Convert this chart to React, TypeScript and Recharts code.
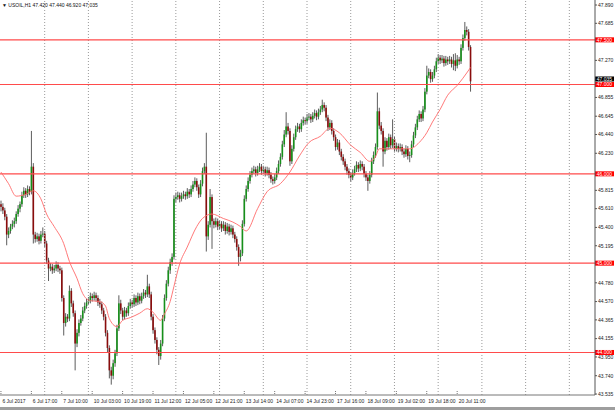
import React from 'react';
import { ComposedChart, Bar, Line, XAxis, YAxis, ReferenceLine } from 'recharts';

// USOIL H1 candles (one per hour)
const opens = [
  45.66,45.63,45.59,45.52,45.32,45.36,45.41,45.44,45.47,45.55,
  45.61,45.66,45.76,45.81,45.77,45.83,45.80,46.08,45.32,45.27,
  45.30,45.25,45.32,45.33,45.22,45.03,44.94,44.96,44.92,44.94,
  44.98,44.94,44.92,44.61,44.33,44.40,44.38,44.69,44.55,44.44,
  44.10,44.22,44.33,44.38,44.47,44.52,44.56,44.58,44.63,44.61,
  44.64,44.61,44.56,44.54,44.47,44.40,44.22,44.05,43.80,43.74,
  43.88,43.99,44.27,44.55,44.47,44.40,44.47,44.44,44.52,44.56,
  44.54,44.61,44.56,44.63,44.58,44.63,44.67,44.65,44.74,44.65,
  44.40,44.25,44.14,44.03,43.96,44.10,44.38,44.61,44.77,44.92,
  45.01,45.07,45.72,45.74,45.76,45.72,45.75,45.77,45.75,45.80,
  45.77,45.83,45.88,45.92,45.85,45.77,45.89,46.03,46.08,45.30,
  45.43,45.74,45.47,45.43,45.47,45.41,45.44,45.39,45.43,45.36,
  45.41,45.35,45.39,45.32,45.27,45.18,45.07,45.11,45.44,45.72,
  45.83,45.92,45.99,46.03,46.05,46.01,46.05,46.08,46.03,46.05,
  46.01,46.04,45.99,45.94,45.92,45.96,46.03,46.11,46.19,46.33,
  46.44,46.53,46.48,46.14,46.28,46.41,46.50,46.53,46.50,46.57,
  46.60,46.59,46.63,46.64,46.61,46.65,46.68,46.64,46.69,46.72,
  46.77,46.74,46.63,46.52,46.57,46.48,46.41,46.30,46.35,46.25,
  46.19,46.14,46.08,46.03,45.99,45.96,46.01,46.05,46.10,46.06,
  46.11,46.08,46.00,45.96,45.92,45.99,46.14,46.21,46.30,46.70,
  46.54,46.48,46.25,46.37,46.30,46.41,46.32,46.39,46.28,46.31,
  46.28,46.30,46.25,46.22,46.28,46.20,46.21,46.33,46.43,46.52,
  46.61,46.67,46.62,46.72,46.92,47.10,47.14,47.06,47.10,47.17,
  47.26,47.30,47.27,47.29,47.24,47.28,47.26,47.28,47.23,47.27,
  47.21,47.28,47.26,47.41,47.52,47.61,47.59,47.42,
];

const highs = [
  45.70,45.67,45.62,45.55,45.40,45.44,45.48,45.51,45.58,45.65,
  45.69,45.80,45.85,45.84,45.87,45.86,46.48,46.12,45.35,45.34,
  45.33,45.36,45.40,45.36,45.25,45.06,45.00,44.99,44.98,45.02,
  45.01,44.97,44.95,44.64,44.44,44.43,44.75,44.72,44.58,44.47,
  44.26,44.37,44.42,44.51,44.56,44.60,44.62,44.67,44.66,44.68,
  44.67,44.64,44.60,44.57,44.50,44.43,44.25,44.08,43.84,43.92,
  44.03,44.31,44.64,44.59,44.50,44.51,44.50,44.56,44.60,44.59,
  44.65,44.64,44.67,44.66,44.67,44.71,44.70,44.87,44.77,44.68,
  44.43,44.28,44.17,44.06,44.14,44.42,44.65,44.81,44.96,45.05,
  45.11,45.76,45.79,45.80,45.79,45.79,45.81,45.80,45.84,45.83,
  45.87,45.92,45.96,45.95,45.88,45.93,46.07,46.12,46.46,45.47,
  45.83,45.77,45.50,45.51,45.50,45.48,45.47,45.47,45.46,45.45,
  45.44,45.43,45.42,45.35,45.30,45.21,45.15,45.48,45.76,45.87,
  45.96,46.03,46.07,46.09,46.08,46.09,46.12,46.11,46.09,46.08,
  46.08,46.07,46.02,45.97,46.00,46.07,46.15,46.23,46.37,46.49,
  46.69,46.57,46.51,46.32,46.45,46.54,46.57,46.56,46.61,46.64,
  46.63,46.67,46.68,46.67,46.69,46.72,46.71,46.73,46.76,46.83,
  46.80,46.77,46.66,46.61,46.60,46.51,46.44,46.39,46.38,46.28,
  46.22,46.17,46.11,46.06,46.02,46.05,46.09,46.14,46.13,46.15,
  46.14,46.11,46.03,45.99,46.03,46.18,46.25,46.34,46.91,46.74,
  46.58,46.51,46.41,46.40,46.45,46.44,46.61,46.42,46.35,46.34,
  46.34,46.33,46.28,46.32,46.31,46.25,46.37,46.47,46.56,46.65,
  46.71,46.70,46.76,46.96,47.21,47.18,47.17,47.14,47.21,47.30,
  47.34,47.33,47.33,47.32,47.32,47.31,47.32,47.31,47.34,47.35,
  47.33,47.31,47.45,47.56,47.70,47.65,47.62,47.44,
];

const lows = [
  45.58,45.55,45.48,45.20,45.28,45.33,45.38,45.40,45.44,45.52,
  45.57,45.63,45.73,45.73,45.74,45.76,45.77,45.22,45.23,45.24,
  45.21,45.22,45.29,45.18,44.99,44.80,44.91,44.88,44.89,44.91,
  44.90,44.88,44.57,44.19,44.29,44.34,44.35,44.51,44.40,43.80,
  44.06,44.18,44.30,44.35,44.44,44.49,44.53,44.55,44.57,44.58,
  44.57,44.52,44.50,44.43,44.36,44.18,44.00,43.71,43.64,43.70,
  43.84,43.96,44.24,44.43,44.36,44.37,44.40,44.41,44.49,44.50,
  44.51,44.52,44.53,44.54,44.55,44.60,44.61,44.62,44.61,44.36,
  44.21,44.10,43.98,43.86,43.92,44.07,44.35,44.58,44.74,44.88,
  44.97,45.04,45.68,45.71,45.68,45.69,45.72,45.71,45.72,45.73,
  45.74,45.80,45.85,45.81,45.73,45.74,45.86,46.00,45.13,45.26,
  45.40,45.16,45.39,45.40,45.37,45.38,45.35,45.36,45.32,45.33,
  45.31,45.32,45.28,45.23,45.14,44.97,45.02,45.08,45.41,45.69,
  45.80,45.89,45.96,46.00,45.97,45.98,46.02,45.99,46.00,45.97,
  45.98,45.95,45.90,45.88,45.89,45.93,46.00,46.08,46.16,46.30,
  46.41,46.44,46.09,46.11,46.25,46.38,46.47,46.46,46.47,46.54,
  46.55,46.56,46.60,46.57,46.58,46.62,46.60,46.61,46.66,46.69,
  46.70,46.59,46.48,46.49,46.44,46.37,46.26,46.27,46.21,46.15,
  46.10,46.04,45.99,45.95,45.91,45.93,45.98,46.02,46.02,46.03,
  46.04,45.96,45.92,45.81,45.89,45.96,46.11,46.18,46.27,46.50,
  46.44,46.08,46.22,46.26,46.27,46.28,46.29,46.24,46.25,46.24,
  46.25,46.21,46.18,46.19,46.16,46.13,46.18,46.30,46.40,46.49,
  46.58,46.58,46.59,46.69,46.89,47.07,47.02,47.03,47.07,47.14,
  47.23,47.23,47.24,47.20,47.21,47.22,47.23,47.19,47.16,47.15,
  47.18,47.22,47.23,47.38,47.49,47.55,47.38,46.92,
];

const closes = [
  45.63,45.59,45.52,45.32,45.36,45.41,45.44,45.47,45.55,45.61,
  45.66,45.76,45.81,45.77,45.83,45.80,46.08,45.32,45.27,45.30,
  45.25,45.32,45.33,45.22,45.03,44.94,44.96,44.92,44.94,44.98,
  44.94,44.92,44.61,44.33,44.40,44.38,44.69,44.55,44.44,44.10,
  44.22,44.33,44.38,44.47,44.52,44.56,44.58,44.63,44.61,44.64,
  44.61,44.56,44.54,44.47,44.40,44.22,44.05,43.80,43.74,43.88,
  43.99,44.27,44.55,44.47,44.40,44.47,44.44,44.52,44.56,44.54,
  44.61,44.56,44.63,44.58,44.63,44.67,44.65,44.74,44.65,44.40,
  44.25,44.14,44.03,43.96,44.10,44.38,44.61,44.77,44.92,45.01,
  45.07,45.72,45.74,45.76,45.72,45.75,45.77,45.75,45.80,45.77,
  45.83,45.88,45.92,45.85,45.77,45.89,46.03,46.08,45.30,45.43,
  45.74,45.47,45.43,45.47,45.41,45.44,45.39,45.43,45.36,45.41,
  45.35,45.39,45.32,45.27,45.18,45.07,45.11,45.44,45.72,45.83,
  45.92,45.99,46.03,46.05,46.01,46.05,46.08,46.03,46.05,46.01,
  46.04,45.99,45.94,45.92,45.96,46.03,46.11,46.19,46.33,46.44,
  46.53,46.48,46.14,46.28,46.41,46.50,46.53,46.50,46.57,46.60,
  46.59,46.63,46.64,46.61,46.65,46.68,46.64,46.69,46.72,46.77,
  46.74,46.63,46.52,46.57,46.48,46.41,46.30,46.35,46.25,46.19,
  46.14,46.08,46.03,45.99,45.96,46.01,46.05,46.10,46.06,46.11,
  46.08,46.00,45.96,45.92,45.99,46.14,46.21,46.30,46.70,46.54,
  46.48,46.25,46.37,46.30,46.41,46.32,46.39,46.28,46.31,46.28,
  46.30,46.25,46.22,46.28,46.20,46.21,46.33,46.43,46.52,46.61,
  46.67,46.62,46.72,46.92,47.10,47.14,47.06,47.10,47.17,47.26,
  47.30,47.27,47.29,47.24,47.28,47.26,47.28,47.23,47.27,47.21,
  47.28,47.26,47.41,47.52,47.61,47.59,47.42,47.035,
];

// moving average, read at a few bars
const maBars = [
  0,4,8,13,17,21,24,28,33,36,40,43,47,52,55,57,61,64,68,73,
  77,80,84,86,89,91,94,98,103,106,111,117,122,126,129,135,140,147,152,157,
  162,168,173,178,184,189,194,197,199,205,210,215,220,224,227,231,235,240,243,247,
];
const maValues = [
  46.02,45.89,45.75,45.77,45.81,45.72,45.55,45.41,45.22,45.02,44.83,44.66,44.58,44.57,44.52,44.38,44.29,44.36,44.39,44.44,
  44.49,44.45,44.36,44.43,44.57,44.74,44.99,45.18,45.41,45.50,45.55,45.50,45.46,45.41,45.36,45.61,45.80,45.89,46.02,46.20,
  46.35,46.42,46.51,46.46,46.32,46.24,46.14,46.19,46.28,46.28,46.28,46.28,46.35,46.46,46.58,46.72,46.88,46.99,47.07,47.19,
];

const timeLabelBars = [0,16,32,48,64,80,96,112,128,144,160,176,192,208,224,240];
const timeLabels = [
  '6 Jul 2017','6 Jul 17:00','7 Jul 10:00','10 Jul 03:00','10 Jul 19:00','11 Jul 12:00',
  '12 Jul 05:00','12 Jul 21:00','13 Jul 14:00','14 Jul 07:00','14 Jul 23:00','17 Jul 16:00',
  '18 Jul 09:00','19 Jul 02:00','19 Jul 18:00','20 Jul 11:00',
];
const gridBars = [23,46,69,92,115,138,161,184,207,230,253,276,299];

const priceTicks = [
  47.890,47.685,47.270,46.855,46.645,46.440,46.230,45.815,45.610,45.400,
  45.195,44.780,44.570,44.365,44.155,43.950,43.740,43.535,
];
const levelLines = [47.5, 47.0, 46.0, 45.0, 44.0];
const lastPrice = 47.035;

const SLOTS = 313;
const FONT = '"Liberation Sans", Arial, sans-serif';

const data = Array.from({ length: SLOTS }, (_, i) => {
  const row: any = { idx: i };
  if (i < closes.length) {
    row.o = opens[i];
    row.h = highs[i];
    row.l = lows[i];
    row.c = closes[i];
    row.range = [lows[i], highs[i]];
  }
  const k = maBars.indexOf(i);
  if (k >= 0) row.ma = maValues[k];
  return row;
});

const Candle = (props: any) => {
  const { x, y, width, height, payload } = props;
  if (!payload || payload.h == null) return <g />;
  const top = Math.min(y, y + height);
  const h = Math.abs(height);
  const span = payload.h - payload.l;
  const toY = (v: number) => (span === 0 ? top : top + ((payload.h - v) / span) * h);
  const cx = x + width / 2;
  const yo = toY(payload.o);
  const yc = toY(payload.c);
  const up = payload.c >= payload.o;
  return (
    <g>
      <line x1={cx} x2={cx} y1={top} y2={top + h} stroke="#4a4a4a" strokeWidth={0.9} />
      <rect
        x={cx - 0.8}
        y={Math.min(yo, yc)}
        width={1.6}
        height={Math.max(Math.abs(yc - yo), 0.8)}
        fill={up ? '#16901a' : '#8a0c0c'}
      />
    </g>
  );
};

const TimeTick = (p: any) => {
  const k = timeLabelBars.indexOf(p.payload.value);
  if (k < 0) return <g />;
  return (
    <g>
      <line x1={p.x} x2={p.x} y1={p.y - 4} y2={p.y} stroke="#777" strokeDasharray="1 1" />
      <text x={p.x + 1.5} y={p.y + 7.5} fontSize={5} fontFamily={FONT} fill="#222">
        {timeLabels[k]}
      </text>
    </g>
  );
};

const PriceTick = (p: any) => (
  <g>
    <line x1={p.x} x2={p.x + 2} y1={p.y} y2={p.y} stroke="#555" />
    <text x={p.x + 3} y={p.y} dy={1.8} fontSize={5} fontFamily={FONT} fill="#222">
      {Number(p.payload.value).toFixed(3)}
    </text>
  </g>
);

// price box on the right scale; shift nudges it off a neighbouring box
const PriceTag = ({ viewBox, text, fill, shift = 0 }: any) => {
  if (!viewBox) return null;
  const x = viewBox.x + viewBox.width;
  const y = viewBox.y + shift;
  return (
    <g>
      <rect x={x} y={y - 2.5} width={19} height={5} fill={fill} />
      <text x={x + 1.8} y={y} dy={1.7} fontSize={5} fontFamily={FONT} fill="#fff">
        {text}
      </text>
    </g>
  );
};

export default function App() {
  return (
    <div style={{ position: 'absolute', left: 0, top: 0, width: 615, height: 410, background: '#fff' }}>
      <ComposedChart
        width={615}
        height={410}
        data={data}
        margin={{ top: 0, right: 0, bottom: 0, left: 0 }}
        barCategoryGap={0}
        barGap={0}
      >
        <XAxis
          dataKey="idx"
          type="category"
          interval={0}
          height={15}
          tickSize={0}
          tickMargin={0}
          tickLine={false}
          axisLine={{ stroke: '#777' }}
          tick={<TimeTick />}
        />
        <YAxis
          orientation="right"
          type="number"
          domain={[43.524, 47.946]}
          allowDataOverflow
          ticks={priceTicks}
          interval={0}
          width={20}
          tickSize={0}
          tickMargin={0}
          tickLine={false}
          axisLine={{ stroke: '#555' }}
          tick={<PriceTick />}
        />
        {gridBars.map((b) => (
          <ReferenceLine key={'g' + b} x={b} stroke="#9a9a9a" strokeDasharray="1 2" />
        ))}
        <ReferenceLine
          y={lastPrice}
          stroke="none"
          strokeOpacity={0}
          label={(p: any) => (
            <PriceTag viewBox={p.viewBox} text={lastPrice.toFixed(3)} fill="#000" shift={-2.4} />
          )}
        />
        {levelLines.map((v) => (
          <ReferenceLine
            key={'l' + v}
            y={v}
            stroke="#ff4b4b"
            strokeWidth={1.2}
            label={(p: any) => <PriceTag viewBox={p.viewBox} text={v.toFixed(3)} fill="#ff0000" />}
          />
        ))}
        <Line
          dataKey="ma"
          type="monotone"
          stroke="#ff6a6a"
          strokeWidth={0.9}
          dot={false}
          activeDot={false}
          connectNulls
          isAnimationActive={false}
        />
        <Bar dataKey="range" shape={(p: any) => <Candle {...p} />} isAnimationActive={false} />
      </ComposedChart>
      <svg width={615} height={410} style={{ position: 'absolute', left: 0, top: 0, pointerEvents: 'none' }}>
        <text x={2} y={7} fontSize={5} fontFamily={FONT} fill="#111">
          {'\u25BC USOIL,H1  47.420 47.440 46.920 47.035'}
        </text>
        <rect x={0} y={407} width={615} height={3} fill="#9e9e9e" />
      </svg>
    </div>
  );
}
